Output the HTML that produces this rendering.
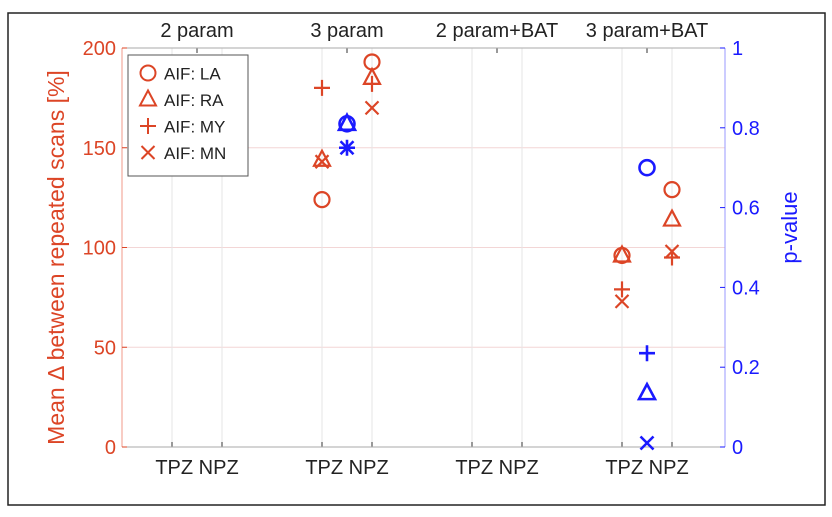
<!DOCTYPE html>
<html><head><meta charset="utf-8"><style>
body{margin:0;background:#fff;}
svg text{font-family:"Liberation Sans",sans-serif;}
</style></head><body>
<svg id="chart" width="832" height="512" xmlns="http://www.w3.org/2000/svg">
<rect x="8" y="13" width="817" height="492" fill="#fff" stroke="#222" stroke-width="1.5"/>
<g id="plot"></g>
</svg>
<script>
const groups=["2 param","3 param","2 param+BAT","3 param+BAT"];
const subLabels=["TPZ","NPZ"];
const leftTicks=[0,50,100,150,200];
const rightTicks=[0,0.2,0.4,0.6,0.8,1];
const markers=["circle","triangle","plus","cross"];
const legendLabels=["AIF: LA","AIF: RA","AIF: MY","AIF: MN"];
const tpzValues=[null,[124,144,180,143],null,[96,96,79,73]];
const npzValues=[null,[193,185,182,170],null,[129,114,95,98]];
const pValues=[null,[0.81,0.81,0.75,0.75],null,[0.70,0.135,0.235,0.01]];

const RED="#dc4526",BLUE="#1a1aff";
const X0=122,X1=725,Y0=447,Y1=48;
const yL=v=>Y0-(v/200)*(Y0-Y1);
const yR=v=>Y0-v*(Y0-Y1);
const gW=150;
const xG=g=>197+gW*g;
const xS=(g,s)=>xG(g)+(s===0?-25:25);
const NS="http://www.w3.org/2000/svg";
const P=document.getElementById('plot');
function mk(tag,attrs,parent){const e=document.createElementNS(NS,tag);for(const k in attrs)e.setAttribute(k,attrs[k]);(parent||P).appendChild(e);return e;}
function txt(x,y,s,attrs){const t=mk('text',Object.assign({x:x,y:y},attrs));t.textContent=s;return t;}
function marker(type,x,y,col,sw){
  const g=mk('g',{stroke:col,'stroke-width':sw||2.2,fill:'none'});
  if(type==="circle")mk('circle',{cx:x,cy:y,r:7.5},g);
  else if(type==="triangle")mk('path',{d:`M${x},${y-9}L${x+8},${y+6}L${x-8},${y+6}Z`},g);
  else if(type==="plus"){mk('path',{d:`M${x-8},${y}H${x+8}M${x},${y-8}V${y+8}`},g);}
  else {mk('path',{d:`M${x-6.5},${y-6.5}L${x+6.5},${y+6.5}M${x+6.5},${y-6.5}L${x-6.5},${y+6.5}`},g);}
  return g;
}
mk('rect',{x:X0,y:Y1,width:X1-X0,height:Y0-Y1,fill:'#fff'});
for(const v of leftTicks){if(v>0&&v<200){const l=mk('line',{x1:X0,x2:X1,y1:yL(v),y2:yL(v),stroke:'#f3d6d6','stroke-width':1});
}}
for(let g=0;g<4;g++)for(let s=0;s<2;s++){const l=mk('line',{x1:xS(g,s),x2:xS(g,s),y1:Y1,y2:Y0,stroke:'#e6e6e6','stroke-width':1});

mk('line',{x1:xS(g,s),x2:xS(g,s),y1:Y0,y2:Y0-5,stroke:'#333'});}
for(let g=0;g<4;g++){mk('line',{x1:xG(g),x2:xG(g),y1:Y1,y2:Y1+5,stroke:'#333'});}
mk('line',{x1:X0,x2:X1,y1:Y1,y2:Y1,stroke:'#aaa'});
mk('line',{x1:X0,x2:X1,y1:Y0,y2:Y0,stroke:'#aaa'});
mk('line',{x1:X0,x2:X0,y1:Y1,y2:Y0,stroke:'#f09a8a'});
mk('line',{x1:X1,x2:X1,y1:Y1,y2:Y0,stroke:'#9a9aff'});
for(const v of leftTicks){mk('line',{x1:X0,x2:X0+5,y1:yL(v),y2:yL(v),stroke:RED});
const t=txt(X0-6,yL(v)+7,String(v),{'text-anchor':'end','font-size':20,fill:RED});
}
for(const v of rightTicks){mk('line',{x1:X1-5,x2:X1,y1:yR(v),y2:yR(v),stroke:BLUE});
const t=txt(X1+7,yR(v)+7,String(v),{'font-size':20,fill:BLUE});
}
for(let g=0;g<4;g++){
  const t=txt(xG(g),37,groups[g],{'text-anchor':'middle','font-size':20,fill:'#222'});
  
  const b=txt(xG(g),474,subLabels.join(' '),{'text-anchor':'middle','font-size':20,fill:'#222'});
  
}
let yt=txt(0,0,"Mean \u0394 between repeated scans [%]",{'text-anchor':'middle','font-size':23,fill:RED,transform:`translate(64,${(Y0+Y1)/2+10}) rotate(-90)`});

let yt2=txt(0,0,"p-value",{'text-anchor':'middle','font-size':22,fill:BLUE,transform:`translate(797,${yR(0.5)-20}) rotate(-90)`});

for(let g=0;g<4;g++){
  for(let a=0;a<4;a++){
    if(tpzValues[g]){const m=marker(markers[a],xS(g,0),yL(tpzValues[g][a]),RED);
      }
    if(npzValues[g]){const m=marker(markers[a],xS(g,1),yL(npzValues[g][a]),RED);
      }
    if(pValues[g]){const m=marker(markers[a],xG(g),yR(pValues[g][a]),BLUE,2.6);
      }
  }
}
const lg=mk('g',{});

mk('rect',{x:128,y:55,width:120,height:121,fill:'#fff',stroke:'#555','stroke-width':1},lg);
for(let a=0;a<4;a++){
  const y=73+a*26.5;
  const m=marker(markers[a],148,y,RED,2);lg.appendChild(m);
  
  const t=txt(164,y+6.5,legendLabels[a],{'font-size':17,fill:'#222'});lg.appendChild(t);
  
}
</script>
</body></html>
